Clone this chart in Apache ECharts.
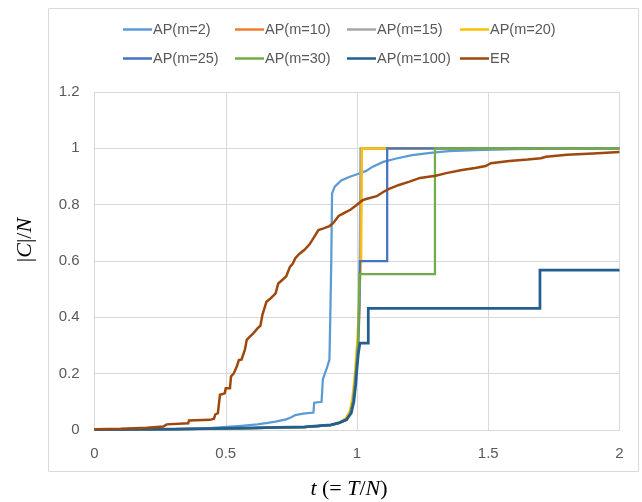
<!DOCTYPE html>
<html><head><meta charset="utf-8">
<script src="https://cdn.jsdelivr.net/npm/echarts@6/dist/echarts.min.js"></script>
<style>html,body{margin:0;padding:0;background:#fff}#c{width:642px;height:502px}</style>
</head><body><div id="c"></div>
<script>
// Series names
const seriesNames = ['AP(m=2)','AP(m=10)','AP(m=15)','AP(m=20)','AP(m=25)','AP(m=30)','AP(m=100)','ER'];
// Tick labels
const xTicks = [0, 0.5, 1, 1.5, 2];
const yTicks = [0, 0.2, 0.4, 0.6, 0.8, 1, 1.2];

// [t, |C|/N] points
const ap2 = [[0,0.001],[0.2,0.002],[0.4,0.004],[0.49,0.01],[0.56,0.015],[0.62,0.02],[0.66,0.025],[0.69,0.03],[0.73,0.038],[0.75,0.045],[0.765,0.053],[0.795,0.058],[0.834,0.062],[0.837,0.097],[0.865,0.1],[0.87,0.18],[0.885,0.22],[0.895,0.25],[0.898,0.39],[0.902,0.6],[0.905,0.84],[0.915,0.864],[0.94,0.886],[0.97,0.898],[1.0,0.908],[1.035,0.92],[1.06,0.935],[1.1,0.952],[1.15,0.964],[1.21,0.976],[1.28,0.984],[1.35,0.99],[1.45,0.994],[1.6,0.997],[1.8,0.999],[2.0,1.0]];
const ap10 = [[0,0.001],[0.3,0.003],[0.5,0.005],[0.7,0.008],[0.8,0.01],[0.9,0.017],[0.93,0.024],[0.96,0.036],[0.975,0.06],[0.985,0.1],[0.992,0.16],[0.998,0.23],[1.004,0.3],[1.009,0.4],[1.013,0.65],[1.018,1.0],[2.0,1.0]];
const ap15 = [[0,0.001],[0.3,0.003],[0.5,0.005],[0.7,0.008],[0.8,0.01],[0.9,0.017],[0.93,0.024],[0.96,0.036],[0.975,0.06],[0.985,0.1],[0.992,0.16],[0.998,0.23],[1.004,0.3],[1.009,0.45],[1.011,0.7],[1.013,1.0],[2.0,1.0]];
const ap20 = [[0,0.001],[0.3,0.003],[0.5,0.005],[0.7,0.008],[0.8,0.01],[0.9,0.017],[0.93,0.025],[0.955,0.04],[0.972,0.065],[0.982,0.11],[0.99,0.18],[0.996,0.25],[1.002,0.33],[1.01,0.5],[1.016,0.6],[1.019,1.0],[2.0,1.0]];
const ap25 = [[0,0.001],[0.3,0.003],[0.5,0.005],[0.7,0.008],[0.8,0.01],[0.9,0.017],[0.93,0.024],[0.96,0.036],[0.975,0.06],[0.985,0.1],[0.992,0.16],[0.998,0.23],[1.004,0.3],[1.009,0.45],[1.011,0.6],[1.115,0.6],[1.115,1.0],[2.0,1.0]];
const ap30 = [[0,0.001],[0.3,0.003],[0.5,0.005],[0.7,0.008],[0.8,0.01],[0.9,0.017],[0.93,0.024],[0.96,0.036],[0.975,0.06],[0.985,0.1],[0.992,0.16],[0.998,0.23],[1.004,0.3],[1.009,0.553],[1.297,0.553],[1.297,1.0],[2.0,1.0]];
const ap100 = [[0,0.001],[0.3,0.003],[0.5,0.006],[0.7,0.009],[0.8,0.011],[0.9,0.018],[0.93,0.025],[0.96,0.037],[0.978,0.06],[0.988,0.1],[0.995,0.16],[1.0,0.22],[1.005,0.27],[1.011,0.308],[1.043,0.308],[1.043,0.432],[1.697,0.432],[1.697,0.568],[2.0,0.568]];
const er = [[0,0.003],[0.1,0.004],[0.2,0.008],[0.262,0.012],[0.264,0.018],[0.275,0.02],[0.276,0.024],[0.357,0.024],[0.36,0.034],[0.44,0.036],[0.455,0.04],[0.46,0.055],[0.47,0.06],[0.473,0.085],[0.478,0.125],[0.496,0.13],[0.5,0.148],[0.516,0.148],[0.52,0.19],[0.53,0.2],[0.542,0.225],[0.55,0.248],[0.56,0.25],[0.573,0.285],[0.58,0.32],[0.59,0.33],[0.605,0.343],[0.62,0.36],[0.632,0.37],[0.64,0.41],[0.655,0.455],[0.668,0.465],[0.69,0.485],[0.7,0.52],[0.712,0.53],[0.73,0.545],[0.745,0.58],[0.755,0.59],[0.765,0.61],[0.78,0.625],[0.8,0.64],[0.82,0.66],[0.84,0.69],[0.853,0.71],[0.87,0.715],[0.895,0.724],[0.91,0.735],[0.93,0.76],[0.95,0.77],[0.975,0.782],[1.0,0.8],[1.02,0.815],[1.035,0.82],[1.075,0.83],[1.1,0.845],[1.12,0.855],[1.16,0.87],[1.2,0.882],[1.24,0.895],[1.3,0.903],[1.34,0.912],[1.4,0.923],[1.45,0.93],[1.49,0.937],[1.51,0.947],[1.58,0.955],[1.65,0.96],[1.7,0.965],[1.72,0.97],[1.8,0.977],[1.9,0.982],[2.0,0.987]];

const seriesData = [ap2, ap10, ap15, ap20, ap25, ap30, ap100, er];
const colors = ['#5B9BD5','#ED7D31','#A5A5A5','#FFC000','#4472C4','#70AD47','#255E91','#9E480E'];
const widths = [2.25,2.25,2.25,2.25,2.25,2.25,2.75,2.5];

const legendPos = [[123,22],[235,22],[347,22],[460,22],[123,51],[235,51],[347,51],[460,51]];

const chart = echarts.init(document.getElementById('c'), null, {renderer:'canvas'});
const txt = {fontFamily:'Liberation Sans', fontSize:15, color:'#595959'};
const mathRich = {
  i:{fontFamily:'Liberation Serif', fontStyle:'italic', fontSize:22, color:'#000'},
  u:{fontFamily:'Liberation Serif', fontSize:22, color:'#000'}
};
chart.setOption({
  animation:false,
  color: colors,
  grid:{left:94.5, right:22.5, top:92, bottom:72, containLabel:false},
  legend: seriesNames.map((n,k)=>({
    data:[n], left:legendPos[k][0], top:legendPos[k][1], icon:'rect', itemWidth:29, itemHeight:2.5, itemGap:0, padding:0,
    textStyle:{fontFamily:'Liberation Sans', fontSize:14.5, color:'#595959', padding:[0,0,0,-4]}, selectedMode:false
  })),
  xAxis:{type:'value', min:0, max:2, interval:0.5,
    axisLine:{show:true, lineStyle:{color:'#D9D9D9', width:1}}, axisTick:{show:false},
    axisLabel:Object.assign({margin:16, formatter:v=>String(v)}, txt),
    splitLine:{show:true, lineStyle:{color:'#D9D9D9', width:1}}},
  yAxis:{type:'value', min:0, max:1.2, interval:0.2,
    axisLine:{show:false}, axisTick:{show:false},
    axisLabel:Object.assign({margin:15, formatter:v=>String(Math.round(v*10)/10)}, txt),
    splitLine:{show:true, lineStyle:{color:'#D9D9D9', width:1}}},
  graphic:[
    {type:'rect', shape:{x:48.5, y:8.5, width:590, height:463}, style:{fill:'none', stroke:'#D9D9D9', lineWidth:1}, silent:true, z:-10},
    {type:'line', shape:{x1:94.5,y1:92,x2:94.5,y2:430}, style:{stroke:'#D9D9D9', lineWidth:1}, silent:true},
    {type:'text', x:25, y:240, rotation:Math.PI/2, style:{text:'{u||}{i|C}{u||/}{i|N}', align:'center', verticalAlign:'middle', rich:mathRich}},
    {type:'text', x:349, y:489, style:{text:'{i|t}{u| (= }{i|T}{u|/}{i|N}{u|)}', align:'center', verticalAlign:'middle', rich:mathRich}}
  ],
  series: seriesNames.map((n,k)=>({
    name:n, type:'line', data:seriesData[k], showSymbol:false, symbol:'none',
    lineStyle:{color:colors[k], width:widths[k], join:'miter'}, itemStyle:{color:colors[k]}
  }))
});
</script></body></html>
